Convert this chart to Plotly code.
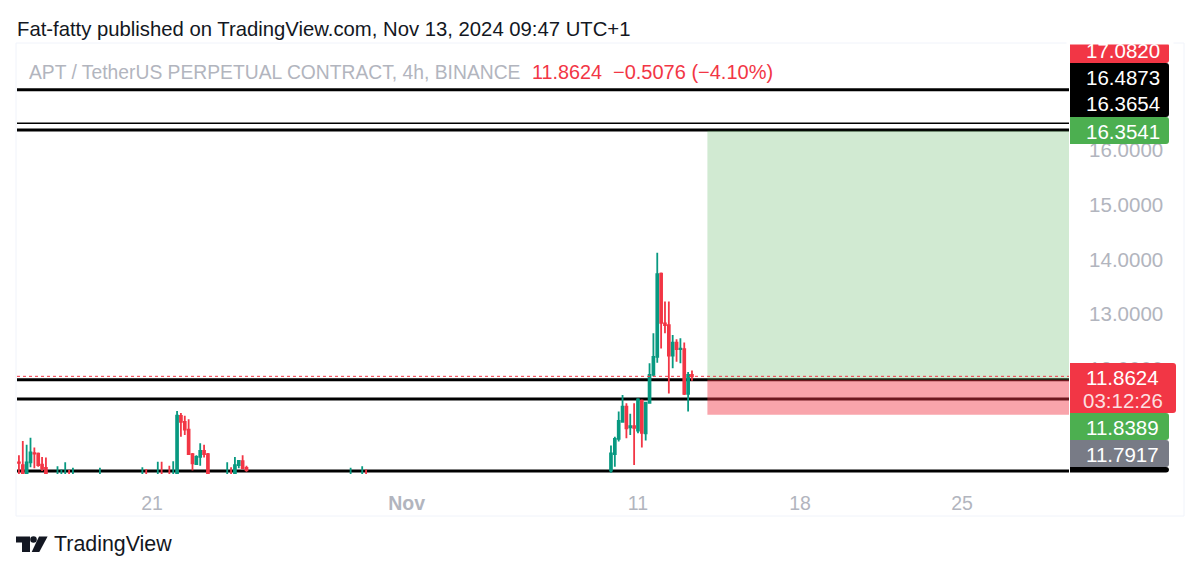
import plotly.graph_objects as go

# 4h candles, bars below the pane bottom are estimated
bar_time = [
    "2024-10-15 06:00", "2024-10-15 10:00", "2024-10-15 14:00", "2024-10-15 18:00",
    "2024-10-15 22:00", "2024-10-16 02:00", "2024-10-16 06:00", "2024-10-16 10:00",
    "2024-10-16 22:00", "2024-10-17 02:00", "2024-10-17 06:00", "2024-10-17 10:00",
    "2024-10-17 14:00", "2024-10-18 18:00", "2024-10-20 14:00", "2024-10-20 18:00",
    "2024-10-21 06:00", "2024-10-21 10:00", "2024-10-21 18:00", "2024-10-21 22:00",
    "2024-10-22 02:00", "2024-10-22 06:00", "2024-10-22 10:00", "2024-10-22 14:00",
    "2024-10-22 18:00", "2024-10-22 22:00", "2024-10-23 02:00", "2024-10-23 06:00",
    "2024-10-23 10:00", "2024-10-24 06:00", "2024-10-24 10:00", "2024-10-24 14:00",
    "2024-10-24 18:00", "2024-10-24 22:00", "2024-10-25 02:00", "2024-10-29 14:00",
    "2024-10-30 02:00", "2024-10-30 06:00",
    "2024-11-09 20:00", "2024-11-10 00:00", "2024-11-10 04:00", "2024-11-10 08:00",
    "2024-11-10 12:00", "2024-11-10 16:00", "2024-11-10 20:00", "2024-11-11 00:00",
    "2024-11-11 04:00", "2024-11-11 08:00", "2024-11-11 12:00", "2024-11-11 16:00",
    "2024-11-11 20:00", "2024-11-12 00:00", "2024-11-12 04:00", "2024-11-12 08:00",
    "2024-11-12 12:00", "2024-11-12 16:00", "2024-11-12 20:00", "2024-11-13 00:00",
    "2024-11-13 04:00", "2024-11-13 08:00",
]
bar_open = [
    10.29, 10.24, 10.00, 10.29, 10.46, 10.45, 10.25, 10.19,
    9.90, 9.90, 9.90, 10.05, 9.90, 9.90, 9.90, 10.05,
    9.90, 10.05, 10.05, 9.90, 10.00, 11.14, 11.03, 10.89,
    10.44, 10.26, 10.39, 10.50, 10.44, 9.90, 10.05, 10.00,
    10.24, 10.31, 10.19, 9.90, 9.90, 10.05,
    10.14, 10.44, 10.72, 11.03, 11.31, 10.93, 10.95, 10.87,
    11.42, 10.82, 11.38, 11.89, 12.22, 13.74, 12.83, 12.80,
    12.24, 12.48, 12.36, 12.36, 11.54, 11.89,
]
bar_high = [
    10.42, 10.68, 10.61, 10.74, 10.56, 10.47, 10.39, 10.38,
    10.22, 10.16, 10.29, 10.15, 10.19, 10.19, 10.20, 10.17,
    10.30, 10.30, 10.23, 10.31, 11.23, 11.19, 11.14, 11.08,
    10.46, 10.42, 10.64, 10.61, 10.46, 10.29, 10.20, 10.39,
    10.33, 10.42, 10.23, 10.19, 10.22, 10.16,
    10.60, 10.76, 11.22, 11.52, 11.37, 11.18, 11.37, 11.46,
    11.44, 11.40, 12.10, 12.65, 14.12, 13.76, 13.23, 13.23,
    12.62, 12.54, 12.56, 12.48, 11.94, 11.97,
]
bar_low = [
    10.00, 9.90, 9.90, 10.20, 10.18, 10.21, 10.13, 9.90,
    9.80, 9.80, 9.80, 9.90, 9.80, 9.80, 9.80, 9.90,
    9.80, 9.90, 9.90, 9.80, 9.90, 10.76, 10.79, 10.43,
    10.14, 10.24, 10.23, 10.38, 9.90, 9.80, 9.90, 9.90,
    10.18, 10.18, 10.12, 9.80, 9.80, 9.90,
    10.10, 10.21, 10.67, 11.03, 10.73, 10.79, 10.24, 10.82,
    10.56, 10.69, 11.36, 11.86, 12.11, 12.37, 12.65, 11.55,
    12.01, 12.13, 12.10, 11.52, 11.22, 11.78,
]
bar_close = [
    10.28, 10.00, 10.29, 10.47, 10.45, 10.24, 10.18, 10.05,
    10.00, 10.00, 10.00, 9.95, 10.00, 10.00, 10.05, 9.95,
    10.05, 9.95, 9.95, 10.00, 11.145, 11.03, 10.89, 10.44,
    10.27, 10.39, 10.50, 10.44, 10.00, 10.00, 9.95, 10.24,
    10.315, 10.18, 10.15, 10.00, 10.00, 9.95,
    10.455, 10.72, 11.05, 11.31, 10.91, 10.95, 10.92, 11.44,
    10.83, 11.38, 11.89, 12.22, 13.73, 12.84, 12.80, 12.24,
    12.48, 12.36, 12.37, 11.54, 11.89, 11.86,
]

# horizontal levels and the long position box
level_price = [17.10, 16.4873, 16.3654, 11.80, 11.45, 10.13]
level_width = [3, 1.5, 3, 3, 3, 3]
last_price = 11.8624
target_price = 16.3541
entry_price = 11.80
stop_price = 11.16
box_start = "2024-11-14 00:00"

x_range = ["2024-10-15 04:00", "2024-11-29 15:00"]
y_range = [10.077, 17.938]
x_tick_vals = ["2024-10-21", "2024-11-01", "2024-11-11", "2024-11-18", "2024-11-25"]
x_tick_text = ["21", "<b>Nov</b>", "11", "18", "25"]
y_tick_vals = [12, 13, 14, 15, 16]
y_tick_text = ["12.0000", "13.0000", "14.0000", "15.0000", "16.0000"]

W, H = 1200, 573
FONT = "Liberation Sans"
UP, DOWN = "#089981", "#F23645"
GREY = "#b2b5be"


def px(x):
    return x / W


def py(y):
    return 1 - y / H


def rbox(x0, y0, x1, y1, color, r=3):
    # rounded label on the price scale, given in page pixels
    path = (f"M{px(x0)},{py(y0)} L{px(x1 - r)},{py(y0)} Q{px(x1)},{py(y0)} {px(x1)},{py(y0 + r)} "
            f"L{px(x1)},{py(y1 - r)} Q{px(x1)},{py(y1)} {px(x1 - r)},{py(y1)} L{px(x0)},{py(y1)} Z")
    return dict(type="path", path=path, xref="paper", yref="paper", fillcolor=color,
                line_width=0, layer="above")


def poly(points, color="#131722"):
    path = "M" + " L".join(f"{px(a)},{py(b)}" for a, b in points) + " Z"
    return dict(type="path", path=path, xref="paper", yref="paper", fillcolor=color, line_width=0)


def label(x, y, text, color="white", size=20.5, anchor="center"):
    return dict(x=px(x), y=py(y), xref="paper", yref="paper", text=text, showarrow=False,
                xanchor=anchor, yanchor="middle", borderpad=0, borderwidth=0,
                font=dict(family=FONT, size=size, color=color))


fig = go.Figure(go.Candlestick(
    x=bar_time, open=bar_open, high=bar_high, low=bar_low, close=bar_close,
    increasing=dict(line=dict(color=UP, width=1.8), fillcolor=UP),
    decreasing=dict(line=dict(color=DOWN, width=1.8), fillcolor=DOWN),
    hoverinfo="skip", showlegend=False,
))

shapes = []
# chart frame
shapes.append(dict(type="rect", xref="paper", yref="paper", x0=px(16), x1=px(1184), y0=py(43), y1=py(516),
                   line=dict(color="#f0f3fa", width=1), layer="below"))
for price, width in zip(level_price, level_width):
    shapes.append(dict(type="line", xref="x", yref="y", x0=x_range[0], x1=x_range[1], y0=price, y1=price,
                       line=dict(color="black", width=width), layer="below"))
# reward and risk zones
shapes.append(dict(type="rect", xref="x", yref="y", x0=box_start, x1=x_range[1], y0=entry_price, y1=target_price,
                   fillcolor="rgba(76,175,80,0.26)", line_width=0, layer="above"))
shapes.append(dict(type="rect", xref="x", yref="y", x0=box_start, x1=x_range[1], y0=stop_price, y1=entry_price,
                   fillcolor="rgba(242,54,69,0.45)", line_width=0, layer="above"))
shapes.append(dict(type="line", xref="x", yref="y", x0=x_range[0], x1=x_range[1], y0=last_price, y1=last_price,
                   line=dict(color=DOWN, width=1, dash="dot"), layer="above"))
# price scale labels
shapes.append(rbox(1070, 43, 1169, 63, DOWN))
shapes.append(rbox(1070, 63, 1169, 117, "black"))
shapes.append(rbox(1070, 117, 1169, 144, "#4CAF50"))
shapes.append(rbox(1070, 467, 1169, 472.5, "black"))
shapes.append(rbox(1070, 440, 1169, 467, "#787B86"))
shapes.append(rbox(1070, 413, 1169, 440, "#4CAF50"))
shapes.append(rbox(1070, 363, 1176, 413, DOWN))
# TradingView logo
shapes.append(poly([(16, 536.5), (30, 536.5), (30, 552), (22, 552), (22, 542.5), (16, 542.5)]))
shapes.append(dict(type="circle", xref="paper", yref="paper", x0=px(30.2), x1=px(36.8), y0=py(536.2), y1=py(542.8),
                   fillcolor="#131722", line_width=0))
shapes.append(poly([(47.6, 536.5), (39, 536.5), (31.7, 552), (39.3, 552)]))

annotations = [
    label(17, 29, "Fat-fatty published on TradingView.com, Nov 13, 2024 09:47 UTC+1", "#131722", 20.3, "left"),
    label(29, 72, "APT / TetherUS PERPETUAL CONTRACT, 4h, BINANCE", GREY, 19.3, "left"),
    label(532, 72, "11.8624", DOWN, 19.8, "left"),
    label(613, 72, "−0.5076 (−4.10%)", DOWN, 20, "left"),
    label(1122.5, 50, "17.0820"),
    # hides the top of the 17.0820 label, which the pane cuts off
    dict(x=px(1120), y=py(37.5), xref="paper", yref="paper", text=" ", showarrow=False, width=104, height=10,
         xanchor="center", yanchor="middle", bgcolor="white"),
    label(1122.5, 77, "16.4873"),
    label(1122.5, 103, "16.3654"),
    label(1122.5, 131, "16.3541"),
    label(1122.5, 377, "11.8624"),
    label(1122.5, 400, "03:12:26", "rgba(255,255,255,0.85)"),
    label(1122.5, 427, "11.8389"),
    label(1122.5, 454, "11.7917"),
    label(54, 544, "TradingView", "#131722", 21.4, "left"),
]

fig.update_layout(
    width=W, height=H,
    margin=dict(l=0, r=0, t=0, b=0),
    paper_bgcolor="white", plot_bgcolor="white",
    shapes=shapes, annotations=annotations,
    xaxis=dict(
        domain=[px(17), px(1069)], range=x_range, type="date",
        rangeslider=dict(visible=False), showgrid=False, zeroline=False, showline=False,
        tickmode="array", tickvals=x_tick_vals, ticktext=x_tick_text,
        ticks="outside", ticklen=12, tickcolor="rgba(0,0,0,0)",
        tickfont=dict(family=FONT, size=19.5, color=GREY),
    ),
    yaxis=dict(
        domain=[py(474), py(44)], range=y_range, side="right", showgrid=False, zeroline=False, showline=False,
        tickmode="array", tickvals=y_tick_vals, ticktext=y_tick_text,
        ticks="outside", ticklen=15, tickcolor="rgba(0,0,0,0)",
        tickfont=dict(family=FONT, size=20.5, color=GREY),
    ),
)

# browser default body margin would shift everything by 8px
fig.write_html("out.html", config=dict(displayModeBar=False),
               post_script="document.body.style.margin='0';")
